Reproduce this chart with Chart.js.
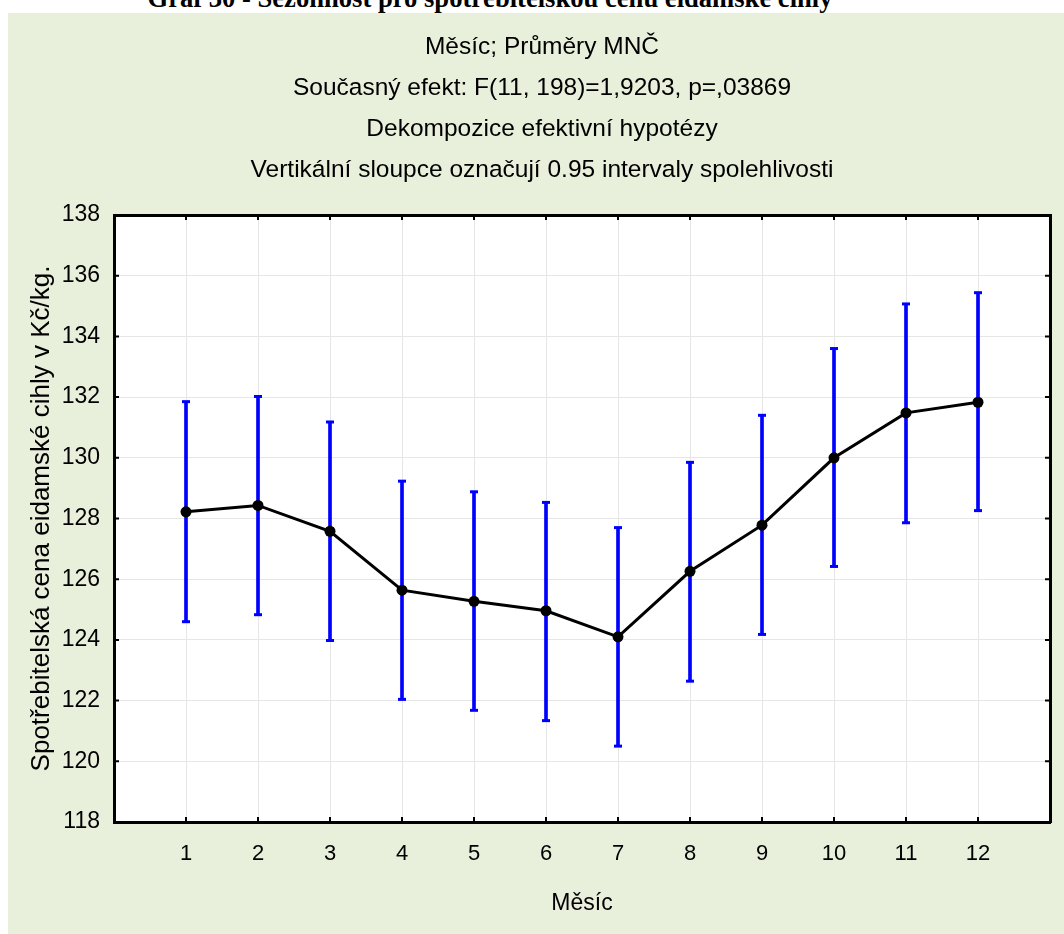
<!DOCTYPE html>
<html>
<head>
<meta charset="utf-8">
<script src="https://cdn.jsdelivr.net/npm/chart.js@4/dist/chart.umd.min.js"></script>
<style>
    html, body { margin: 0; padding: 0; overflow: hidden; background: #ffffff; }
    #page { position: relative; width: 1064px; height: 934px; overflow: hidden; }
    #panel { position: absolute; left: 8px; top: 13px; width: 1100px; height: 930px; background: #e8efdb; }
    #heading {
        position: absolute; left: 0; top: -15px; width: 980px; text-align: center;
        font: bold 26.6px 'Liberation Serif', 'Times New Roman', serif; line-height: 26px; color: #000;
        white-space: nowrap;
    }
    #chart { position: absolute; left: 0; top: 0; }
</style>
</head>
<body>
<div id="page">
    <div id="panel"></div>
    <div id="heading">Graf 30 - Sezónnost pro spotřebitelskou cenu eidamské cihly</div>
    <canvas id="chart" width="1084" height="934"></canvas>
</div>
<script>
const months = [1, 2, 3, 4, 5, 6, 7, 8, 9, 10, 11, 12];
const means = [128.22, 128.43, 127.58, 125.64, 125.27, 124.96, 124.1, 126.26, 127.78, 130.0, 131.48, 131.83];
const upper = [131.85, 132.02, 131.18, 129.23, 128.88, 128.53, 127.70, 129.85, 131.40, 133.60, 135.07, 135.44];
const lower = [124.60, 124.83, 123.98, 122.04, 121.68, 121.34, 120.50, 122.64, 124.18, 126.42, 127.86, 128.26];
const yTicks = { min: 118, max: 138, step: 2 };

const titleLines = [
    'Měsíc; Průměry MNČ',
    'Současný efekt: F(11, 198)=1,9203, p=,03869',
    'Dekompozice efektivní hypotézy',
    'Vertikální sloupce označují 0.95 intervaly spolehlivosti'
];
const xTitle = 'Měsíc';
const yTitle = 'Spotřebitelská cena eidamské cihly v Kč/kg.';

const sans = "'Liberation Sans', Arial, Helvetica, sans-serif";

// white plotting area on top of the green panel
const plotBackground = {
    id: 'plotBackground',
    beforeDraw(chart) {
        const { ctx, chartArea: a } = chart;
        ctx.save();
        ctx.fillStyle = '#ffffff';
        ctx.fillRect(a.left, a.top, a.right - a.left, a.bottom - a.top);
        ctx.restore();
    }
};

// short tick marks pointing into the frame on all four sides
const innerTicks = {
    id: 'innerTicks',
    afterDraw(chart) {
        const { ctx, chartArea: a, scales } = chart;
        const len = 5;
        ctx.save();
        ctx.strokeStyle = '#000';
        ctx.lineWidth = 2;
        ctx.beginPath();
        scales.x.ticks.forEach(t => {
            const px = scales.x.getPixelForValue(t.value);
            ctx.moveTo(px, a.bottom); ctx.lineTo(px, a.bottom - len);
            ctx.moveTo(px, a.top); ctx.lineTo(px, a.top + len);
        });
        scales.y.ticks.forEach(t => {
            const py = scales.y.getPixelForValue(t.value);
            ctx.moveTo(a.left, py); ctx.lineTo(a.left + len, py);
            ctx.moveTo(a.right, py); ctx.lineTo(a.right - len, py);
        });
        ctx.stroke();
        ctx.restore();
    }
};

const frame = { display: true, color: '#000', width: 3 };
const gridColor = '#e6e6e6';

new Chart(document.getElementById('chart').getContext('2d'), {
    type: 'line',
    data: {
        datasets: [
            {
                label: 'Průměr',
                data: months.map((m, i) => ({ x: m, y: means[i] })),
                borderColor: '#000',
                borderWidth: 3,
                pointRadius: 5.5,
                pointBackgroundColor: '#000',
                pointBorderColor: '#000',
                pointBorderWidth: 0,
                tension: 0,
                order: 0
            },
            {
                type: 'scatter',
                label: 'Meze',
                data: months.map((m, i) => ({ x: m, y: upper[i] }))
                    .concat(months.map((m, i) => ({ x: m, y: lower[i] }))),
                pointStyle: 'line',
                pointRadius: 4,
                borderColor: '#0000ff',
                borderWidth: 3,
                showLine: false,
                order: 1
            },
            {
                type: 'bar',
                label: 'Interval',
                data: months.map((m, i) => ({ x: m, y: [lower[i], upper[i]] })),
                backgroundColor: '#0000ff',
                borderWidth: 0,
                barThickness: 3,
                order: 2
            }
        ]
    },
    options: {
        responsive: false,
        animation: false,
        layout: { padding: 0 },
        plugins: {
            legend: { display: false },
            tooltip: { enabled: false },
            title: {
                display: true,
                text: titleLines,
                color: '#000',
                font: { family: sans, size: 24.5, weight: 'normal', lineHeight: '41px' },
                padding: { top: 26.5, bottom: 24.5 }
            }
        },
        scales: {
            x: {
                type: 'linear',
                position: 'bottom',
                min: 0,
                max: 13,
                offset: false,
                afterBuildTicks: s => { s.ticks = months.map(v => ({ value: v })); },
                afterFit: s => { s.height = 112; },
                ticks: {
                    color: '#000',
                    font: { family: sans, size: 22 },
                    padding: 19,
                    maxRotation: 0,
                    autoSkip: false
                },
                grid: { color: gridColor, lineWidth: 1, drawTicks: false, offset: false },
                border: frame,
                title: {
                    display: true,
                    text: xTitle,
                    color: '#000',
                    font: { family: sans, size: 23 },
                    padding: { top: 0, bottom: 17 }
                }
            },
            x2: {
                type: 'linear',
                position: 'top',
                min: 0,
                max: 13,
                offset: false,
                afterFit: s => { s.height = 0; },
                ticks: { display: false },
                grid: { drawOnChartArea: false, drawTicks: false, offset: false },
                border: frame
            },
            y: {
                type: 'linear',
                position: 'left',
                min: yTicks.min,
                max: yTicks.max,
                afterFit: s => { s.width = 114; },
                ticks: {
                    stepSize: yTicks.step,
                    color: '#000',
                    font: { family: sans, size: 23 },
                    padding: 14
                },
                grid: { color: gridColor, lineWidth: 1, drawTicks: false },
                border: frame,
                title: {
                    display: true,
                    text: yTitle,
                    color: '#000',
                    font: { family: sans, size: 26 },
                    padding: { top: 26, bottom: 0 }
                }
            },
            y2: {
                type: 'linear',
                position: 'right',
                min: yTicks.min,
                max: yTicks.max,
                afterFit: s => { s.width = 34; },
                ticks: { display: false },
                grid: { drawOnChartArea: false, drawTicks: false },
                border: frame
            }
        }
    },
    plugins: [plotBackground, innerTicks]
});
</script>
</body>
</html>
